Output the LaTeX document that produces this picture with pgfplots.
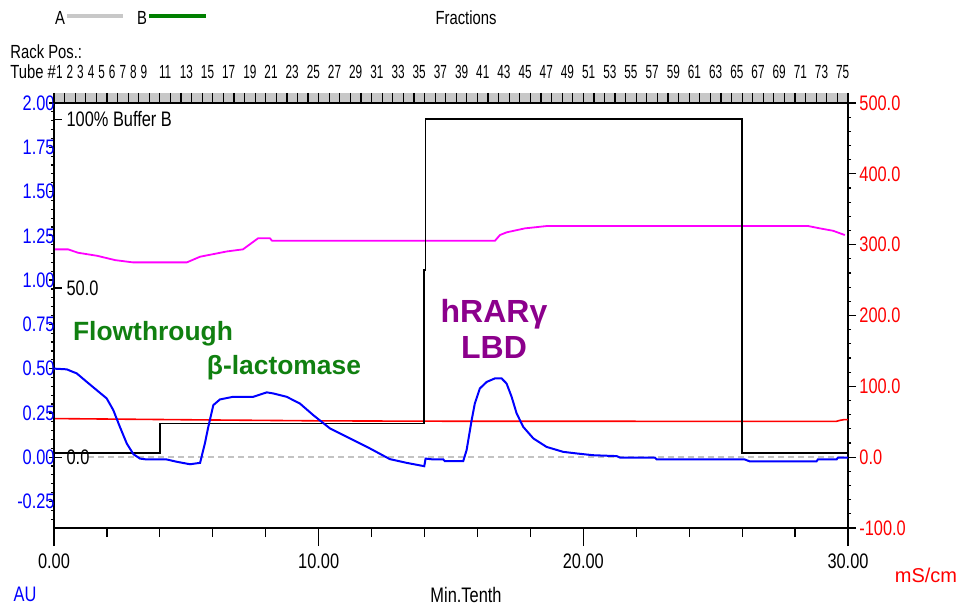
\documentclass[border=0pt]{standalone}
\usepackage{pgfplots}
\pgfplotsset{compat=1.18}
\usepackage{fontspec}
\setmainfont{Liberation Sans}
\newfontfamily\cfont[FakeStretch=0.78]{Liberation Sans}
\newfontfamily\tfont[FakeStretch=0.62]{Liberation Sans}
\newcommand\tk{\cfont\fontsize{10.5}{12}\selectfont}
\newcommand\sm{\cfont\fontsize{9.5}{11}\selectfont}
\newcommand\tb{\tfont\fontsize{9.5}{11}\selectfont}
\definecolor{ublue}{RGB}{0,0,255}
\definecolor{ured}{RGB}{255,0,0}
\definecolor{umag}{RGB}{255,0,255}
\definecolor{ugreen}{RGB}{16,128,16}
\definecolor{upurple}{RGB}{140,0,140}
\definecolor{ugray}{RGB}{200,200,200}
\definecolor{dgray}{RGB}{195,195,195}
\pgfplotsset{common/.style={at={(27pt,-264pt)}, anchor=south west, scale only axis,
  width=397pt, height=212.5pt, xmin=0, xmax=30,
  axis line style={black, line width=0.9pt, -}, tick style={black, line width=0.6pt},
  /pgf/number format/assume math mode=true}}
\begin{document}
\begin{tikzpicture}
\begin{scope}[x=0.5pt,y=-0.5pt]
\path[use as bounding box] (0,0) rectangle (964,602);
\end{scope}
% right axis: conductivity (mS/cm) and magenta trace
\begin{axis}[common, ymin=-100, ymax=500, axis x line=none, axis y line*=right,
  tick align=outside, major tick length=4pt, minor tick length=1.5pt,
  ytick={-100,0,...,500}, minor ytick={-80,-60,...,480},
  yticklabel style={font=\tk, text=ured, anchor=west, inner sep=0pt, xshift=1.5pt,
    /pgf/number format/fixed, /pgf/number format/fixed zerofill, /pgf/number format/precision=1}]
\addplot[ured, line width=0.8pt] coordinates {(0,54.5)(3,53.5)(6,52.5)(10,51.3)(14,50.8)(29.55,50.5)(29.7,52)(29.85,53)(30,53)};
\addplot[umag, line width=0.9pt] coordinates {(0,293.4)(0.53,293.4)(0.91,288.6)(1.63,284.3)(2.31,278.2)(2.98,275)(5.02,275)(5.52,283)(6.54,290.5)(7.14,293.4)(7.71,309)(8.16,309)(8.24,305.5)(16.66,305.5)(16.85,313.6)(17.10,317.4)(17.79,323)(18.61,326.3)(28.50,326.3)(28.94,323)(29.44,319.6)(29.88,313.6)};
\end{axis}
% left axis: absorbance (AU), buffer B and UV trace
\begin{axis}[common, ymin=-0.4, ymax=2.0, axis x line=none, axis y line*=left, clip=false,
  tick align=outside, major tick length=2.5pt, minor tick length=1.5pt,
  ytick={-0.25,0,...,2.0}, minor ytick={-0.35,-0.3,...,1.95},
  yticklabel style={font=\tk, text=ublue, anchor=east, inner sep=0pt, xshift=3pt,
    /pgf/number format/fixed, /pgf/number format/fixed zerofill, /pgf/number format/precision=2}]
\addplot[dgray, line width=0.7pt, dash pattern=on 3pt off 2pt] coordinates {(1.3,0)(30,0)};
\addplot[black, line width=0.9pt] coordinates {(0,0.022)(4.0,0.022)(4.0,0.19)(13.98,0.19)(13.98,1.056)(14.04,1.056)(14.04,1.908)(26.0,1.908)(26.0,0.022)(30,0.022)};
\draw[black, line width=0.6pt] (axis cs:0,1.908) -- ++(4pt,0pt) node[right, inner sep=2pt, font=\tk]{100\% Buffer B};
\draw[black, line width=0.6pt] (axis cs:0,0.955) -- ++(4pt,0pt) node[right, inner sep=2pt, font=\tk]{50.0};
\draw[black, line width=0.6pt] (axis cs:0,0) -- ++(4pt,0pt) node[right, inner sep=2pt, font=\tk]{0.0};
\addplot[ublue, line width=1pt] coordinates {(0,0.50)(0.48,0.496)(0.86,0.473)(1.24,0.425)(1.61,0.379)(1.99,0.332)(2.24,0.266)(2.49,0.171)(2.75,0.077)(3.00,0.017)(3.25,-0.008)(3.50,-0.013)(4.26,-0.013)(4.64,-0.026)(5.14,-0.040)(5.52,-0.032)(5.70,0.077)(5.83,0.171)(6.02,0.294)(6.27,0.326)(6.77,0.341)(7.53,0.341)(8.04,0.366)(8.28,0.360)(8.79,0.341)(9.29,0.303)(9.80,0.237)(10.43,0.162)(11.18,0.106)(11.94,0.049)(12.69,-0.011)(13.32,-0.032)(13.99,-0.051)(14.04,-0.008)(14.33,-0.013)(14.71,-0.013)(14.77,-0.023)(15.46,-0.023)(15.59,0.040)(15.78,0.209)(15.90,0.303)(16.09,0.388)(16.35,0.425)(16.66,0.445)(16.91,0.445)(17.10,0.416)(17.29,0.341)(17.48,0.247)(17.73,0.171)(18.11,0.106)(18.61,0.058)(19.24,0.030)(19.75,0.021)(20.37,0.011)(21.26,0.006)(21.38,-0.002)(22.70,-0.002)(22.77,-0.013)(26.10,-0.013)(26.29,-0.024)(28.81,-0.024)(28.86,-0.013)(29.57,-0.013)(29.62,-0.002)(30,-0.002)};
\end{axis}
% bottom time axis
\begin{axis}[common, ymin=0, ymax=1, hide y axis, axis x line*=bottom,
  tick align=outside, major tick length=9pt, minor tick length=4.5pt,
  xtick={0,10,20,30}, xticklabels={0.00,10.00,20.00,30.00},
  minor xtick={2,4,6,8,12,14,16,18,22,24,26,28},
  xticklabel style={font=\tk, anchor=north, inner sep=0pt, yshift=-3.5pt}]
\end{axis}
% top fraction axis
\begin{axis}[common, ymin=0, ymax=1, hide y axis, axis x line*=top, axis on top, clip=false,
  tick align=outside, major tick length=5pt,
  xtick={0,0.4,...,30}, xticklabels={},
  extra x ticks={0.2,0.6,1.0,1.4,1.8,2.2,2.6,3.0,3.4,4.2,5.0,5.8,6.6,7.4,8.2,9.0,9.8,10.6,11.4,12.2,13.0,13.8,14.6,15.4,16.2,17.0,17.8,18.6,19.4,20.2,21.0,21.8,22.6,23.4,24.2,25.0,25.8,26.6,27.4,28.2,29.0,29.8},
  extra x tick labels={1,2,3,4,5,6,7,8,9,11,13,15,17,19,21,23,25,27,29,31,33,35,37,39,41,43,45,47,49,51,53,55,57,59,61,63,65,67,69,71,73,75},
  extra x tick style={major tick length=0pt, xticklabel style={font=\tb, anchor=south, inner sep=0pt, yshift=12pt}}]
\fill[ugray] (rel axis cs:0,1) rectangle ([yshift=5pt]rel axis cs:1,1);
\end{axis}
\begin{scope}[x=0.5pt,y=-0.5pt]
\node[font=\sm] at (60,18) {A};
\draw[ugray, line width=2pt] (67,16) -- (123,16);
\node[font=\sm] at (142,18) {B};
\draw[green!50!black, line width=2pt] (149,16) -- (206,16);
\node[font=\sm] at (466,18) {Fractions};
\node[font=\sm, anchor=west, inner sep=0pt] at (10,52) {Rack Pos.:};
\node[font=\sm, anchor=west, inner sep=0pt] at (10,72) {Tube \#};
\node[font=\tk, text=ublue] at (25,594) {AU};
\node[font=\tk] at (466,595) {Min.Tenth};
\node[font=\fontsize{10}{12}\selectfont, text=ured] at (926,575) {mS/cm};
\node[font=\bfseries\fontsize{13.2}{15}\selectfont, text=ugreen, anchor=base, inner sep=0pt] at (153,340) {Flowthrough};
\node[font=\bfseries\fontsize{13.2}{15}\selectfont, text=ugreen, anchor=base, inner sep=0pt] at (284,374) {β-lactomase};
\node[font=\bfseries\fontsize{16}{18}\selectfont, text=upurple, anchor=base, inner sep=0pt] at (494,322) {hRARγ};
\node[font=\bfseries\fontsize{16}{18}\selectfont, text=upurple, anchor=base, inner sep=0pt] at (494,358) {LBD};
\end{scope}
\end{tikzpicture}
\end{document}
